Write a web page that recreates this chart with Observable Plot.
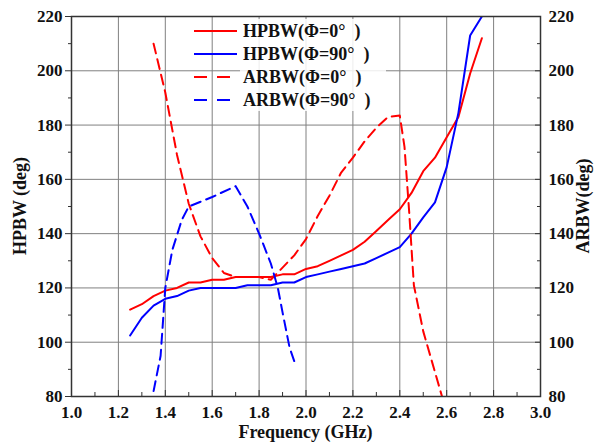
<!DOCTYPE html>
<html><head><meta charset="utf-8">
<script src="https://cdn.jsdelivr.net/npm/d3@7"></script>
<script src="https://cdn.jsdelivr.net/npm/@observablehq/plot@0.6"></script>
<style>body{margin:0;background:#fff} #chart{width:597px;height:445px;position:relative}</style>
</head><body><div id="chart"></div>
<script>
// Frequency (GHz) for HPBW curves
const freqHpbw = [1.25,1.30,1.35,1.40,1.45,1.50,1.55,1.60,1.65,1.70,1.75,1.80,1.85,1.90,1.95,2.00,2.05,2.10,2.15,2.20,2.25,2.30,2.35,2.40,2.45,2.50,2.55,2.60,2.65,2.70,2.75];
const hpbw0  = [112,114,117,119,120,122,122,123,123,124,124,124,124,125,125,127,128,130,132,134,137,141,145,149,155,163,168,175.5,183,199,212];
const hpbw90 = [102.5,109,113.5,116,117,119,120,120,120,120,121,121,121,122,122,124,125,126,127,128,129,131,133,135,140,146,151.5,164.5,184.5,213,220];
// ARBW curves
const freqArbw0 = [1.35,1.40,1.45,1.50,1.55,1.60,1.65,1.70,1.75,1.80,1.85,1.90,1.95,2.00,2.05,2.10,2.15,2.20,2.25,2.30,2.35,2.40,2.42,2.44,2.46,2.50,2.55,2.58];
const arbw0 = [210,192,169,151,139,131,125.5,124,124,124,123,127.5,132,138,146.5,154,162.5,168,174,179,183,183.5,172,148,121,104,89,80];
const freqArbw90 = [1.35,1.38,1.40,1.43,1.47,1.50,1.60,1.70,1.75,1.80,1.85,1.88,1.90,1.93,1.95];
const arbw90 = [82,95,120,134,145,150,153.5,157.5,150,140,129,120,111,98,93];

const xTicks = [1.0,1.2,1.4,1.6,1.8,2.0,2.2,2.4,2.6,2.8,3.0];
const xMinor = [1.1,1.3,1.5,1.7,1.9,2.1,2.3,2.5,2.7,2.9];
const yTicks = [80,100,120,140,160,180,200,220];
const yMinor = [90,110,130,150,170,190,210];
const seriesNames = ["HPBW(Φ=0°  )","HPBW(Φ=90°  )","ARBW(Φ=0°  )","ARBW(Φ=90°  )"];
const seriesColors = ["#ff0000","#0000ff","#ff0000","#0000ff"];
const seriesDash = [null,null,"10,6","10,6"];
const xLabel = "Frequency (GHz)";
const yLabelLeft = "HPBW (deg)";
const yLabelRight = "ARBW(deg)";

const toRows = (fs, vs) => fs.map((f, i) => ({f, v: vs[i]}));
const series = [toRows(freqHpbw,hpbw0), toRows(freqHpbw,hpbw90), toRows(freqArbw0,arbw0), toRows(freqArbw90,arbw90)];

const W = 597, H = 445, ML = 71, MR = 57, MT = 16, MB = 49;
const font = "'Liberation Serif', 'Times New Roman', serif";

const plot = Plot.plot({
  width: W, height: H,
  marginLeft: ML, marginRight: MR, marginTop: MT, marginBottom: MB,
  style: {fontFamily: font, fontSize: "17px", fontWeight: "bold", color: "#111", background: "#fff"},
  x: {domain: [1, 3]},
  y: {domain: [80, 220]},
  marks: [
    Plot.gridX(xTicks.slice(1, -1), {stroke: "#808080", strokeOpacity: 1, strokeWidth: 1}),
    Plot.gridY(yTicks.slice(1, -1), {stroke: "#808080", strokeOpacity: 1, strokeWidth: 1}),
    // bottom axis: labels + inward ticks
    Plot.axisX(xTicks, {anchor: "bottom", tickSize: 0, tickPadding: 9, tickFormat: d3.format(".1f"), label: null}),
    Plot.axisX(xTicks, {anchor: "bottom", tickSize: -6, tickFormat: () => "", label: null, stroke: "#333"}),
    Plot.axisX(xMinor, {anchor: "bottom", tickSize: -4, tickFormat: () => "", label: null, stroke: "#333"}),
    // left axis: outward ticks
    Plot.axisY(yTicks, {anchor: "left", tickSize: 6, tickPadding: 3, label: null, stroke: "#333"}),
    Plot.axisY(yMinor, {anchor: "left", tickSize: 3, tickFormat: () => "", label: null, stroke: "#333"}),
    // right axis: inward ticks
    Plot.axisY(yTicks, {anchor: "right", tickSize: 0, tickPadding: 8, label: null}),
    Plot.axisY(yTicks, {anchor: "right", tickSize: -6, tickFormat: () => "", label: null, stroke: "#333"}),
    Plot.axisY(yMinor, {anchor: "right", tickSize: -4, tickFormat: () => "", label: null, stroke: "#333"}),
    ...series.map((d, i) => Plot.line(d, {x: "f", y: "v", stroke: seriesColors[i], strokeWidth: 2, strokeDasharray: seriesDash[i], clip: true})),
    Plot.frame({stroke: "#333", strokeWidth: 1.5})
  ]
});
document.getElementById("chart").appendChild(plot);

const svg = d3.select(plot);
// axis titles
svg.append("text").attr("x", (ML + W - MR) / 2).attr("y", 438).attr("text-anchor", "middle")
  .attr("font-family", font).attr("font-weight", "bold").attr("font-size", 18).attr("fill", "#111").text(xLabel);
svg.append("text").attr("transform", `translate(26,${(MT + H - MB) / 2}) rotate(-90)`).attr("text-anchor", "middle")
  .attr("font-family", font).attr("font-weight", "bold").attr("font-size", 18).attr("fill", "#111").text(yLabelLeft);
svg.append("text").attr("transform", `translate(589,${(MT + H - MB) / 2}) rotate(-90)`).attr("text-anchor", "middle")
  .attr("font-family", font).attr("font-weight", "bold").attr("font-size", 18).attr("fill", "#111").text(yLabelRight);

// legend
const lg = svg.append("g");
lg.append("rect").attr("x", 240).attr("y", 19).attr("width", 146).attr("height", 92).attr("fill", "#fff").attr("opacity", 0.85);
const rowY = [31, 54, 77, 100];
seriesNames.forEach((name, i) => {
  lg.append("line").attr("x1", 194).attr("x2", 237).attr("y1", rowY[i]).attr("y2", rowY[i])
    .attr("stroke", seriesColors[i]).attr("stroke-width", 2).attr("stroke-dasharray", seriesDash[i] ? "13,10" : null);
  lg.append("text").attr("x", 243).attr("y", rowY[i] + 6).attr("text-anchor", "start").attr("font-family", font).attr("font-weight", "bold")
    .attr("font-size", 18).attr("fill", "#111").style("white-space", "pre").text(name);
});
</script>
</body></html>
